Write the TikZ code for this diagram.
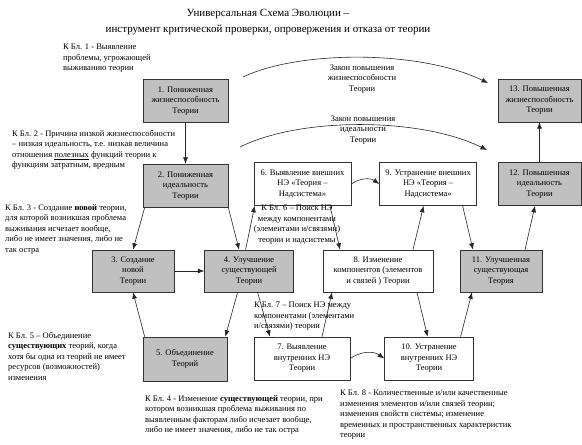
\documentclass[tikz,border=0pt]{standalone}
\usepackage{fontspec}
\setmainfont{Liberation Serif}
\usepackage{tikz}
\usetikzlibrary{positioning,arrows.meta}
\definecolor{boxgray}{RGB}{192,192,192}

\begin{document}
\begin{tikzpicture}[
  x=1pt, y=-1pt,
  font=\fontsize{8.5}{10.5}\selectfont,
  box/.style={draw=black!80, line width=0.6pt, minimum height=43pt, inner sep=2pt, align=center},
  gbox/.style={box, fill=boxgray},
  wbox/.style={box, fill=white},
  note/.style={inner sep=0pt, align=left, anchor=north west},
  lawtext/.style={inner sep=0pt, align=center},
  arr/.style={-{Latex[length=6.5pt,width=5pt]}, black!85, line width=0.6pt}
]
\useasboundingbox (0,0) rectangle (582,445);
\node[font=\fontsize{11}{16}\selectfont, align=center] (title) at (268,22)
  {Универсальная Схема Эволюции –\\инструмент критической проверки, опровержения и отказа от теории};

\node[gbox, minimum width=85pt] (b1) at (185.5,101) {1. Пониженная\\жизнеспособность\\Теории};
\node[gbox, minimum width=85pt, below=41pt of b1] (b2) {2. Пониженная\\идеальность\\Теории};
\node[gbox, minimum width=82pt, minimum height=42pt] (b3) at (133,271) {3. Создание\\новой\\Теории};
\node[gbox, minimum width=89pt, minimum height=42pt, right=30pt of b3] (b4) {4. Улучшение\\существующей\\Теории};
\node[gbox, minimum width=84pt, minimum height=44pt] (b5) at (185,359) {5. Объединение\\Теорий};
\node[wbox, minimum width=97pt] (b6) at (302.5,184) {6. Выявление внешних\\НЭ «Теория –\\Надсистема»};
\node[wbox, minimum width=97pt, right=28pt of b6] (b9) {9. Устранение  внешних\\НЭ «Теория –\\Надсистема»};
\node[wbox, minimum width=110pt, minimum height=42pt] (b8) at (378,271) {8. Изменение\\компонентов (элементов\\и связей ) Теории};
\node[wbox, minimum width=96pt] (b7) at (302,358.5) {7. Выявление\\внутренних  НЭ\\Теории};
\node[wbox, minimum width=89pt, right=34pt of b7] (b10) {10. Устранение\\внутренних  НЭ\\Теории};
\node[gbox, minimum width=82pt, minimum height=42pt] (b11) at (501,271) {11. Улучшенная\\существующая\\Теория};
\node[gbox, minimum width=83pt] (b12) at (539.5,184) {12. Повышенная\\идеальность\\Теории};
\node[gbox, minimum width=83pt, above=40pt of b12] (b13) {13. Повышенная\\жизнеспособность\\Теории};

\node[note] (n1) at (63,44) {К Бл. 1 - Выявление\\проблемы, угрожающей\\выживанию теории};
\node[note] (n2) at (12,130) {К Бл. 2 - Причина низкой жизнеспособности\\– низкая идеальность, т.е. низкая величина\\отношения \underline{полезных} функций теории к\\функциям затратным, вредным};
\node[note] (n3) at (5,204) {К Бл. 3 - Создание \textbf{новой} теории,\\для которой возникшая проблема\\выживания исчезает вообще,\\либо не имеет значения, либо не\\так остра};
\node[note] (n5) at (8,332) {К Бл. 5 – Объединение\\\textbf{существующих} теорий, когда\\хотя бы одна из теорий не имеет\\ресурсов (возможностей)\\изменения};
\node[note] (n4) at (145,395) {К Бл. 4 - Изменение \textbf{существующей} теории, при\\котором возникшая проблема выживания по\\выявленным факторам либо исчезает вообще,\\либо не имеет значения, либо не так остра};
\node[note, anchor=north, align=center] (n6) at (297,205) {К Бл. 6 – Поиск НЭ\\между компонентами\\(элементами и/связями)\\теории и надсистемы};
\node[note] (n7) at (254,302) {К Бл. 7 – Поиск НЭ между\\компонентами (элементами\\и/связями) теории};
\node[note] (n8) at (340,390) {К Бл. 8 - Количественные и/или качественные\\изменения элементов и/или связей теории;\\изменения свойств системы; изменение\\временных и пространственных характеристик\\теории};

\node[lawtext] (law1) at (362,79) {Закон повышения\\жизнеспособности\\Теории};
\node[lawtext] (law2) at (363,130) {Закон повышения\\идеальности\\Теории};

\coordinate (l1s) at (243,77);
\coordinate (l1e) at (488,83);
\coordinate (l2s) at (240,147);
\coordinate (l2e) at (487,150);
\draw[arr] (l1s) .. controls (300,50) and (420,50) .. (l1e);
\draw[arr] (l2s) .. controls (300,117) and (420,117) .. (l2e);

\draw[arr] (b1) -- (b2);
\draw[arr] ([xshift=2pt]b2.south west) -- (b3.north);
\draw[arr] (b2.south east) -- ([xshift=-10pt]b4.north);
\draw[arr] (b3) -- (b4);
\draw[arr] ([xshift=-11.5pt]b4.south) -- ([xshift=-2pt]b5.north east);
\draw[arr] ([xshift=2pt]b5.north west) -- (b3.south);
\draw[arr] ([xshift=-3.5pt]b4.north) -- ([xshift=1pt]b6.south west);
\draw[arr] ([xshift=27.5pt]b6.south) -- ([xshift=-38pt]b8.north);
\draw[arr] ([xshift=8.5pt]b4.south) -- ([xshift=-32pt]b7.north);
\draw[arr] ([xshift=20pt]b7.north) -- ([xshift=-46pt]b8.south);
\draw[arr] (b6.east) to[bend left=35] (b9.west);
\draw[arr] (b7.east) to[bend left=35] (b10.west);
\draw[arr] ([xshift=35pt]b8.north) -- ([xshift=-4.5pt]b9.south);
\draw[arr] ([xshift=34.5pt]b9.south) -- ([xshift=-28pt]b11.north);
\draw[arr] ([xshift=39pt]b8.south) -- ([xshift=-1.5pt]b10.north);
\draw[arr] ([xshift=31.5pt]b10.north) -- ([xshift=-29pt]b11.south);
\draw[arr] ([xshift=24pt]b11.north) -- ([xshift=-4.5pt]b12.south);
\draw[arr] (b12) -- (b13);
\end{tikzpicture}
\end{document}
